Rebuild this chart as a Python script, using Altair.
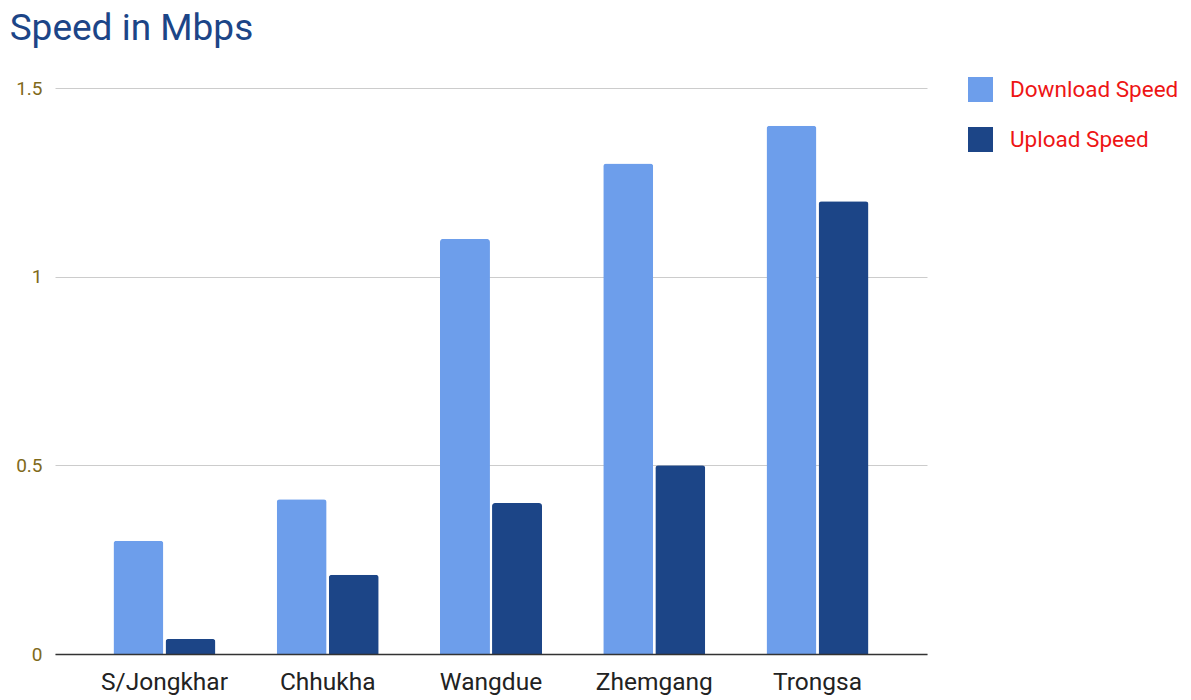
import altair as alt
import pandas as pd

districts = ["S/Jongkhar", "Chhukha", "Wangdue", "Zhemgang", "Trongsa"]
download_speed = [0.30, 0.41, 1.10, 1.30, 1.40]
upload_speed = [0.04, 0.21, 0.40, 0.50, 1.20]
series = ["Download Speed", "Upload Speed"]
colors = ["#6d9eeb", "#1c4587"]
y_ticks = [0, 0.5, 1, 1.5]

rows = []
for d, dl, ul in zip(districts, download_speed, upload_speed):
    rows.append({"District": d, "Series": series[0], "Speed": dl})
    rows.append({"District": d, "Series": series[1], "Speed": ul})
df = pd.DataFrame(rows)

chart = (
    alt.Chart(df)
    .mark_bar(cornerRadiusTopLeft=3, cornerRadiusTopRight=3)
    .encode(
        x=alt.X(
            "District:N",
            sort=districts,
            title=None,
            scale=alt.Scale(paddingInner=0.375, paddingOuter=0.358),
            axis=alt.Axis(
                labelAngle=0,
                labelFont="Roboto",
                labelFontSize=24.5,
                labelColor="#222222",
                labelPadding=16,
                ticks=False,
                domainColor="#333333",
                domainWidth=1.5,
                grid=False,
                zindex=1,
            ),
        ),
        xOffset=alt.XOffset("Series:N", sort=series, scale=alt.Scale(paddingInner=0.04)),
        y=alt.Y(
            "Speed:Q",
            title=None,
            scale=alt.Scale(domain=[0, 1.5], nice=False),
            axis=alt.Axis(
                values=y_ticks,
                format="~g",
                labelFont="Roboto",
                labelFontSize=19,
                labelColor="#7f6a1a",
                labelPadding=13,
                ticks=False,
                domain=False,
                gridColor="#cccccc",
                gridWidth=1,
                zindex=0,
            ),
        ),
        color=alt.Color(
            "Series:N",
            sort=series,
            scale=alt.Scale(domain=series, range=colors),
            legend=alt.Legend(
                title=None,
                orient="none",
                legendX=913,
                legendY=-11,
                symbolType="square",
                symbolSize=625,
                symbolStrokeWidth=0,
                labelFont="Roboto",
                labelFontSize=22.5,
                labelColor="#ee1515",
                labelOffset=17,
                labelLimit=300,
                rowPadding=25,
                padding=0,
            ),
        ),
    )
    .properties(
        width=872,
        height=566,
        title=alt.TitleParams(
            "Speed in Mbps",
            anchor="start",
            frame="bounds",
            font="Roboto",
            fontSize=37,
            fontWeight="normal",
            color="#1c4587",
            dx=-6,
            offset=29,
            limit=500,
        ),
        autosize=alt.AutoSizeParams(type="none"),
        padding={"left": 47, "top": 80, "right": 256, "bottom": 44},
    )
    .configure_view(stroke=None)
)

chart.save("out.html", embed_options={"renderer": "svg", "actions": False})
